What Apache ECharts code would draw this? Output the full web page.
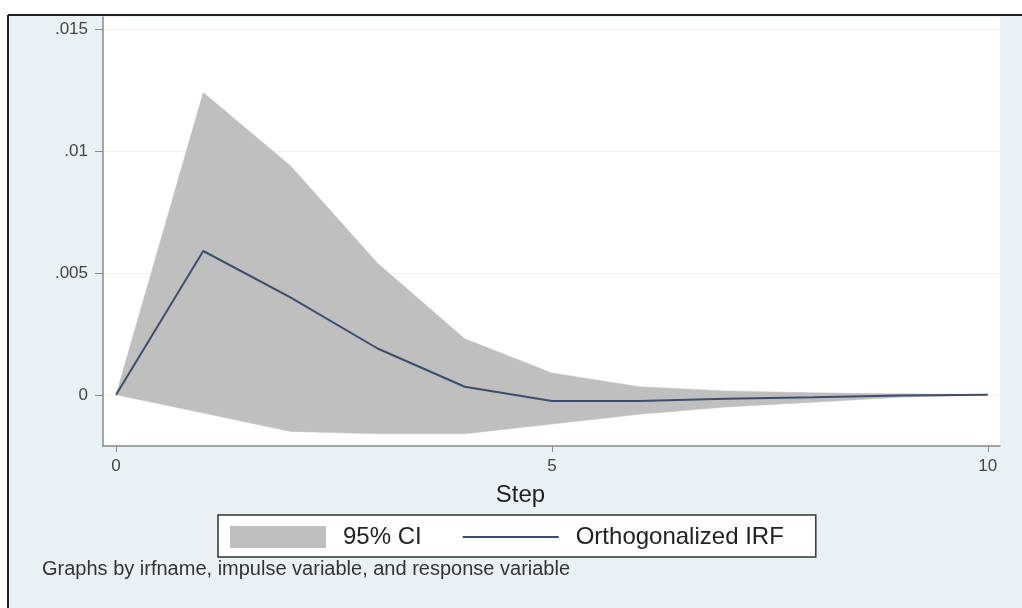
<!DOCTYPE html>
<html>
<head>
<meta charset="utf-8">
<script src="https://cdn.jsdelivr.net/npm/echarts@6/dist/echarts.min.js"></script>
<style>
  html, body { margin: 0; padding: 0; background: #fff; }
  #chart { width: 1022px; height: 608px; }
</style>
</head>
<body>
<div id="chart"></div>
<script>
// impulse response
var steps = [0, 1, 2, 3, 4, 5, 6, 7, 8, 9, 10];
var irf = [0, 0.0059, 0.0040, 0.0019, 0.00033, -0.00025, -0.00025, -0.00016, -0.0001, -0.00003, 0];
var ciLower = [0, -0.00075, -0.0015, -0.0016, -0.0016, -0.0012, -0.0008, -0.0005, -0.0003, -0.0001, -0.00001];
var ciUpper = [0, 0.0124, 0.0094, 0.0054, 0.0023, 0.0009, 0.00033, 0.00016, 0.00008, 0.00004, 0.00001];
var xTicks = [0, 5, 10];
var yTicks = [0, 0.005, 0.01, 0.015];

var bandColor = '#bfbfbf';
var lineColor = '#3d4d6b';
var axisColor = '#888';

var chart = echarts.init(document.getElementById('chart'));

// CI band as one polygon: upper bound left->right, then lower bound back
function renderBand(params, api) {
  var pts = [];
  var i;
  for (i = 0; i < steps.length; i++) pts.push(api.coord([steps[i], ciUpper[i]]));
  for (i = steps.length - 1; i >= 0; i--) pts.push(api.coord([steps[i], ciLower[i]]));
  return {
    type: 'polygon',
    shape: { points: pts },
    style: { fill: bandColor, stroke: bandColor, lineWidth: 0.5 }
  };
}

var option = {
  backgroundColor: '#e9f1f3',
  animation: false,
  textStyle: { fontFamily: 'Liberation Sans, Arial, sans-serif' },
  grid: {
    left: 103, right: 22, top: 17, bottom: 162,
    show: true, backgroundColor: '#fff', borderWidth: 0
  },
  xAxis: {
    type: 'value',
    min: -0.15, max: 10.14,
    name: 'Step',
    nameLocation: 'middle',
    nameGap: 37,
    nameTextStyle: { fontSize: 24, color: '#222', padding: [0, 62, 0, 0] },
    axisLine: { onZero: false, lineStyle: { color: axisColor, width: 1.5 } },
    axisTick: { show: true, length: 6, customValues: xTicks, lineStyle: { color: axisColor } },
    axisLabel: { customValues: xTicks, fontSize: 17, color: '#444', margin: 12 },
    splitLine: { show: false }
  },
  yAxis: {
    type: 'value',
    min: -0.0021, max: 0.0155,
    axisLine: { show: true, onZero: false, lineStyle: { color: axisColor, width: 1.5 } },
    axisTick: { show: true, length: 8, customValues: yTicks, lineStyle: { color: axisColor } },
    axisLabel: {
      customValues: yTicks, fontSize: 17, color: '#444', margin: 15,
      formatter: function (v) {
        return v === 0 ? '0' : String(+v.toFixed(3)).replace(/^0\./, '.');
      }
    },
    splitLine: { show: true, lineStyle: { color: '#f1f1ee', width: 1 } }
  },
  legend: {
    left: 218, top: 515,
    orient: 'horizontal',
    backgroundColor: '#fff',
    borderColor: '#333', borderWidth: 1.5,
    padding: [10, 32, 8, 12],
    itemWidth: 96, itemHeight: 22, itemGap: 40,
    textStyle: { fontSize: 24, color: '#222', padding: [0, 0, 0, 12] },
    data: [
      { name: '95% CI', icon: 'rect', itemStyle: { color: bandColor } },
      { name: 'Orthogonalized IRF', itemStyle: { opacity: 0 } }
    ]
  },
  graphic: [
    // frame of the cut-out figure
    { type: 'rect', shape: { x: 0, y: 0, width: 1022, height: 15 }, style: { fill: '#fff' } },
    { type: 'rect', shape: { x: 0, y: 0, width: 8, height: 608 }, style: { fill: '#fff' } },
    { type: 'line', shape: { x1: 8, y1: 15, x2: 1022, y2: 15 }, style: { stroke: '#222', lineWidth: 2 } },
    { type: 'line', shape: { x1: 8, y1: 15, x2: 8, y2: 608 }, style: { stroke: '#222', lineWidth: 2 } },
    {
      type: 'text', left: 42, top: 559,
      style: {
        text: 'Graphs by irfname, impulse variable, and response variable',
        fontSize: 20, fill: '#333', fontFamily: 'Liberation Sans, Arial, sans-serif'
      }
    }
  ],
  series: [
    {
      name: '95% CI',
      type: 'custom',
      renderItem: renderBand,
      data: [[0, 0]],
      silent: true,
      itemStyle: { color: bandColor },
      z: 1
    },
    {
      name: 'Orthogonalized IRF',
      type: 'line',
      data: steps.map(function (s, i) { return [s, irf[i]]; }),
      symbol: 'none',
      itemStyle: { color: lineColor },
      lineStyle: { color: lineColor, width: 2 },
      z: 3
    }
  ]
};

chart.setOption(option);
</script>
</body>
</html>
